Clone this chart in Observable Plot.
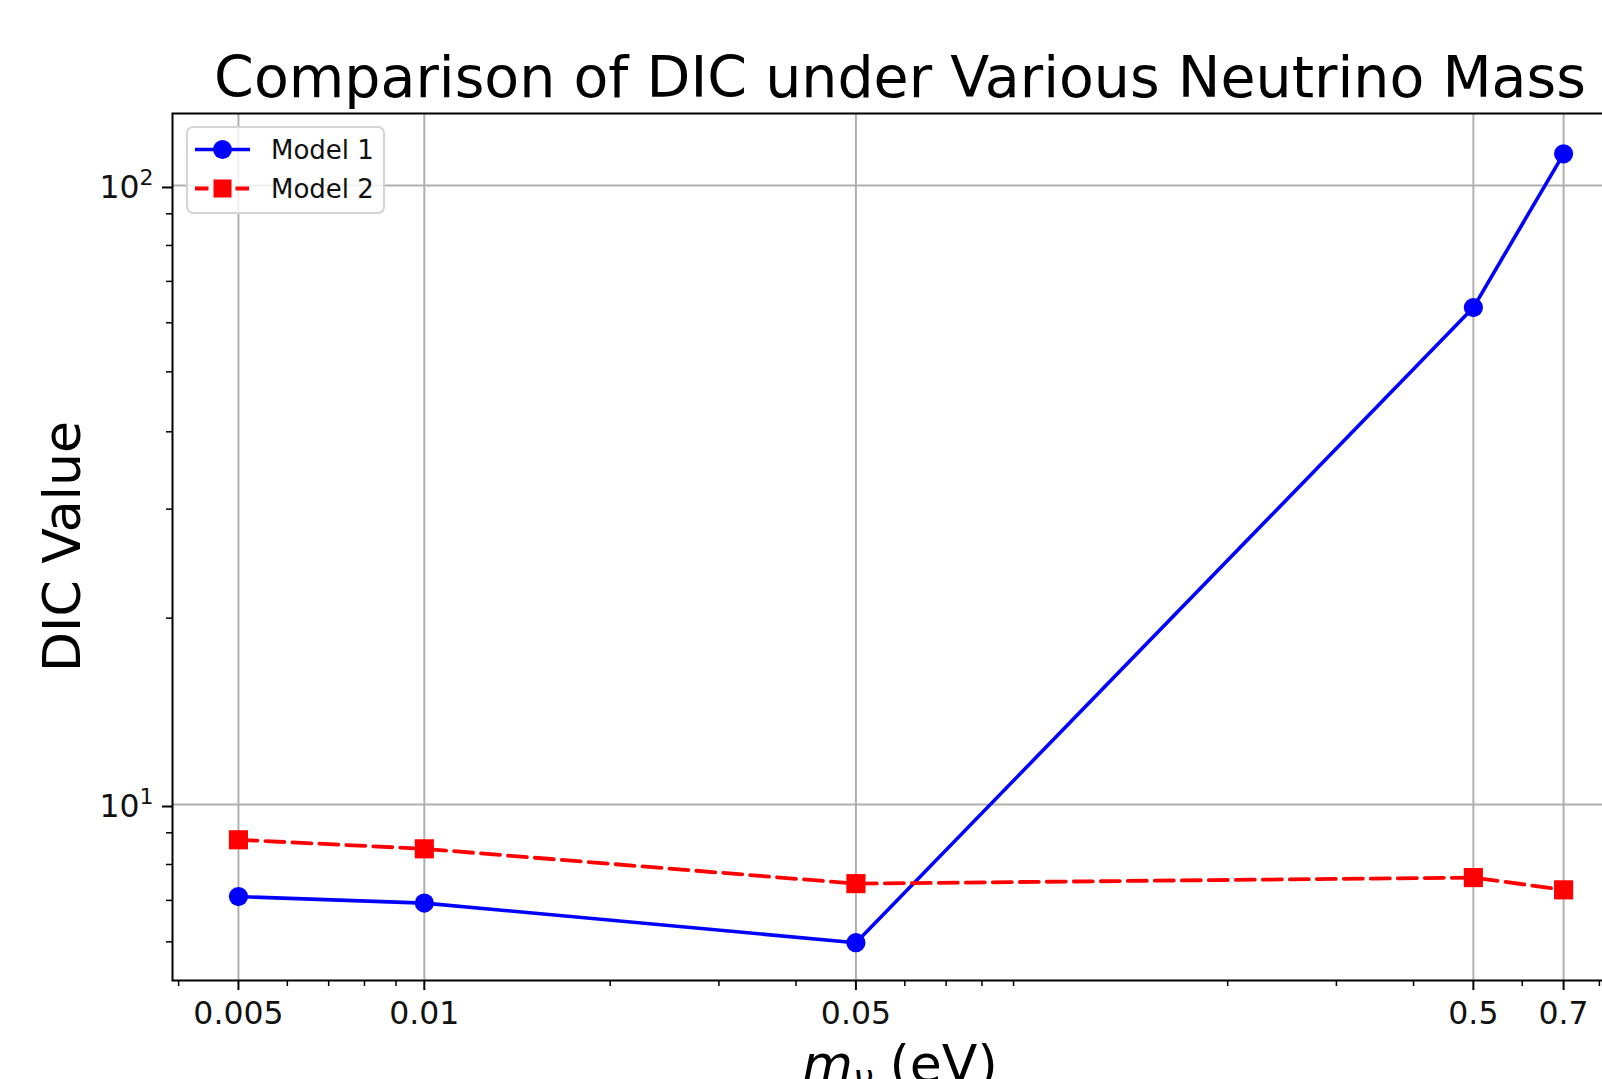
<!DOCTYPE html>
<html><head><meta charset="utf-8">
<script src="https://cdn.jsdelivr.net/npm/d3@7"></script>
<script src="https://cdn.jsdelivr.net/npm/@observablehq/plot@0.6"></script>
<style>
html,body{margin:0;padding:0;background:#fff;overflow:hidden;}
#chart svg{overflow:hidden;display:block;}
</style></head><body>
<div id="chart"></div>
<script>
// ---- data ----
const masses = [0.005, 0.01, 0.05, 0.5, 0.7];
const model1 = [7.10, 6.93, 5.98, 63.5, 112.5];
const model2 = [8.77, 8.48, 7.45, 7.62, 7.28];
const seriesNames = ["Model 1", "Model 2"];
const xMajorTicks = [0.005, 0.01, 0.05, 0.5, 0.7];
const xMajorLabels = ["0.005", "0.01", "0.05", "0.5", "0.7"];
const xMinorTicks = [0.004, 0.006, 0.007, 0.008, 0.009, 0.02, 0.03, 0.04, 0.06, 0.07, 0.08, 0.09, 0.2, 0.3, 0.4, 0.6, 0.8];
const yMajorTicks = [10, 100];
const yMajorBase = ["10", "10"];
const yMajorExp = ["1", "2"];
const yMinorTicks = [6, 7, 8, 9, 20, 30, 40, 50, 60, 70, 80, 90];
const titleText = "Comparison of DIC under Various Neutrino Mass";
const yLabelText = "DIC Value";

const rows1 = masses.map((m, i) => ({mass: m, dic: model1[i], series: seriesNames[0]}));
const rows2 = masses.map((m, i) => ({mass: m, dic: model2[i], series: seriesNames[1]}));

const FONT = "DejaVu Sans, Verdana, sans-serif";
const W = 1602, H = 1079;

const plot = Plot.plot({
  width: W,
  height: H,
  marginLeft: 172,
  marginRight: -27,
  marginTop: 113,
  marginBottom: 99,
  style: {fontFamily: FONT, background: "white", overflow: "hidden"},
  x: {type: "log", domain: [0.00391, 0.895]},
  y: {type: "log", domain: [5.196, 130.7]},
  marks: [
    Plot.gridX(xMajorTicks, {stroke: "#b0b0b0", strokeOpacity: 1, strokeWidth: 2}),
    Plot.gridY(yMajorTicks, {stroke: "#b0b0b0", strokeOpacity: 1, strokeWidth: 2}),
    Plot.axisX(xMinorTicks, {tickSize: 6, strokeWidth: 1.5, tickFormat: () => "", label: null}),
    Plot.axisX(xMajorTicks, {tickSize: 10, strokeWidth: 2, tickPadding: 11, fontSize: 31.5, fill: "#111",
      tickFormat: d => xMajorLabels[xMajorTicks.indexOf(d)], label: null}),
    Plot.axisY(yMinorTicks, {tickSize: 6, strokeWidth: 1.5, tickFormat: () => "", label: null}),
    Plot.axisY(yMajorTicks, {tickSize: 10, strokeWidth: 2, tickPadding: 9, fontSize: 31.5, fill: "#111", dy: 2,
      tickFormat: d => "YT" + yMajorTicks.indexOf(d), label: null}),
    Plot.line(rows1, {x: "mass", y: "dic", stroke: "#0000ff", strokeWidth: 3.6}),
    Plot.dot(rows1, {x: "mass", y: "dic", fill: "#0000ff", r: 9.6, symbol: "circle"}),
    Plot.line(rows2, {x: "mass", y: "dic", stroke: "#ff0000", strokeWidth: 3.8, strokeDasharray: "19,8"}),
    Plot.dot(rows2, {x: "mass", y: "dic", fill: "#ff0000", r: 10.8, symbol: "square"}),
    Plot.frame({stroke: "#000", strokeWidth: 2})
  ]
});

document.getElementById("chart").appendChild(plot);

const svg = d3.select(plot);

// y tick labels as 10 with raised exponent
svg.selectAll("text").each(function() {
  const t = d3.select(this);
  const s = this.textContent;
  if (/^YT\d$/.test(s)) {
    const i = +s.slice(2);
    t.text(null);
    t.append("tspan").text(yMajorBase[i]);
    t.append("tspan").attr("font-size", 22).attr("dy", -13).text(yMajorExp[i]);
  }
});

// ---- titles and legend as real text ----
svg.append("text")
  .attr("x", 900).attr("y", 97)
  .attr("text-anchor", "middle")
  .attr("font-family", FONT).attr("font-size", 57).attr("fill", "#000")
  .text(titleText);

svg.append("text")
  .attr("transform", "translate(80,546.5) rotate(-90)")
  .attr("text-anchor", "middle")
  .attr("font-family", FONT).attr("font-size", 52).attr("fill", "#000")
  .text(yLabelText);

const xl = svg.append("text")
  .attr("x", 900).attr("y", 1082)
  .attr("text-anchor", "middle")
  .attr("font-family", FONT).attr("font-size", 52).attr("fill", "#000");
xl.append("tspan").attr("font-style", "italic").text("m");
xl.append("tspan").attr("font-style", "italic").attr("font-size", 36).attr("dy", 8).text("\u03BD");
xl.append("tspan").attr("dy", -8).text(" (eV)");

const lg = svg.append("g").attr("text-anchor", "start");
lg.append("rect").attr("x", 187).attr("y", 127).attr("width", 197).attr("height", 86).attr("rx", 6)
  .attr("fill", "white").attr("fill-opacity", 0.8).attr("stroke", "#d4d4d4").attr("stroke-width", 2);
lg.append("line").attr("x1", 195).attr("x2", 250).attr("y1", 149.5).attr("y2", 149.5)
  .attr("stroke", "#0000ff").attr("stroke-width", 3.6);
lg.append("circle").attr("cx", 222.5).attr("cy", 149.5).attr("r", 9.4).attr("fill", "#0000ff");
lg.append("text").attr("x", 271).attr("y", 159).attr("text-anchor", "start").attr("font-family", FONT).attr("font-size", 26).attr("fill", "#111").text(seriesNames[0]);
lg.append("line").attr("x1", 195).attr("x2", 250).attr("y1", 188.5).attr("y2", 188.5)
  .attr("stroke", "#ff0000").attr("stroke-width", 3.8).attr("stroke-dasharray", "13.5,27");
lg.append("rect").attr("x", 222.5 - 9).attr("y", 188.5 - 9).attr("width", 18).attr("height", 18).attr("fill", "#ff0000");
lg.append("text").attr("x", 271).attr("y", 198).attr("text-anchor", "start").attr("font-family", FONT).attr("font-size", 26).attr("fill", "#111").text(seriesNames[1]);
</script>
</body></html>
